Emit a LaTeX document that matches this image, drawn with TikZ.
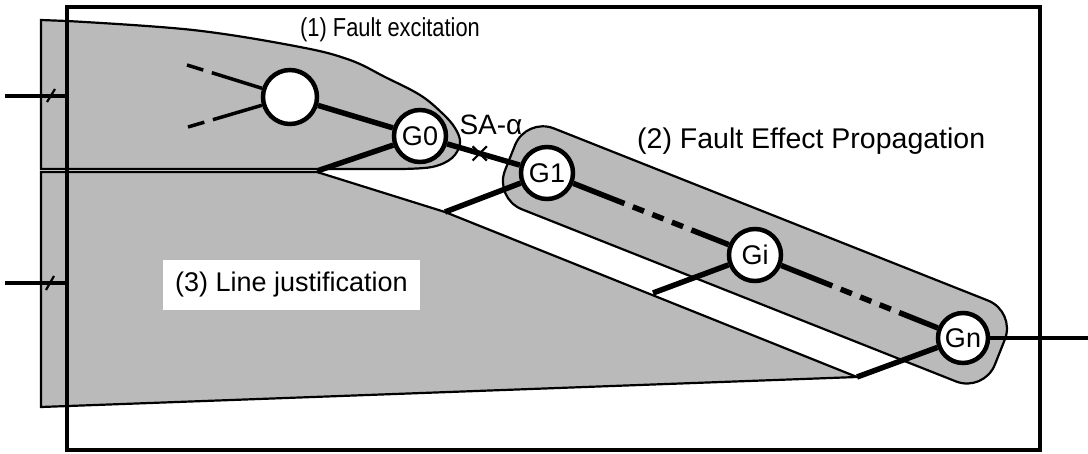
\documentclass[tikz,border=0pt]{standalone}
\usepackage{fontspec}
\setmainfont{Liberation Sans}
\newfontfamily\narrowsans[FakeStretch=0.84]{Liberation Sans}
\usetikzlibrary{calc,shapes.misc}
\begin{document}
\begin{tikzpicture}[x=1pt,y=-1pt,
  region/.style={fill=black!27, draw=black, line width=2.2pt},
  gate/.style={circle, draw=black, fill=white, line width=4.5pt, minimum size=52pt, inner sep=0pt, font=\fontsize{27}{27}\selectfont},
  wire/.style={line width=5.5pt},
  inwire/.style={line width=3.5pt},
  frame/.style={line width=4pt},
  lbl/.style={font=\fontsize{27}{27}\selectfont, inner sep=0pt},
  gapwire/.style={wire, dash pattern=on 55pt off 9pt on 12pt off 9pt on 12pt off 9pt on 12pt off 9pt on 200pt},
  faninwire/.style={inwire, dash pattern=on 17pt off 9pt on 200pt},
  busslash/.style={line width=2.2pt}
]
\useasboundingbox (0,0) rectangle (1088,453);

% (3) line justification region
\path[region] (41,172) -- (317,172) -- (445,212) -- (857,377) -- (41,407) -- cycle;
% (1) fault excitation region
\path[region] (41,20) -- plot[smooth, tension=0.6] coordinates {(67,21) (193,30) (300,47) (350,60) (385,77) (420,95) (442,113) (455,128) (460,143) (452,158) (432,167) (400,169)} -- (41,169) -- cycle;
% (2) fault effect propagation region
\begin{scope}[shift={(547,173)}, rotate=-21.63]
  \path[region, rounded corners=30pt] (-40,-44) rectangle (487,43);
\end{scope}

% frame
\draw[frame] (67,7) rectangle (1040,450);

% gates
\node[gate, minimum size=54pt] (C) at (290,97) {};
\node[gate] (G0) at (420,136) {G0};
\node[gate] (G1) at (547,173) {G1};
\node[gate] (Gi) at (755,255) {Gi};
\node[gate, minimum size=50pt] (Gn) at (963,338) {Gn};

% coordinates for free wire ends
\coordinate (t1) at (187,65);
\coordinate (t2) at (188,127);
\coordinate (j0) at (317,171);
\coordinate (j1) at (445,212);
\coordinate (j2) at (653,293);
\coordinate (j3) at (857,377);
\coordinate (out) at (1088,338);
\coordinate (in1) at (5,96);
\coordinate (f1) at (67,96);
\coordinate (in2) at (5,283);
\coordinate (f2) at (67,283);
\coordinate (b1) at (51,96);
\coordinate (b2) at (50,283);

% wires
\draw[faninwire] (t1) -- (C);
\draw[faninwire] (t2) -- (C);
\draw[wire] (C) -- (G0);
\draw[wire] (G0) -- (G1);
\draw[wire] (j0) -- (G0);
\draw[wire] (j1) -- (G1);
\draw[wire] (j2) -- (Gi);
\draw[wire] (j3) -- (Gn);
\draw[gapwire] (G1) -- (Gi);
\draw[gapwire] (Gi) -- (Gn);
\draw[inwire] (Gn) -- (out);
\draw[inwire] (in1) -- (f1);
\draw[inwire] (in2) -- (f2);
\draw[busslash] ($(b1)+(-4,6)$) -- ($(b1)+(4,-7)$);
\draw[busslash] ($(b2)+(-4,7)$) -- ($(b2)+(4,-7)$);

% stuck-at fault mark
\node[cross out, draw=black, line width=2.2pt, minimum size=12pt, inner sep=0pt] (sa) at ($(G0)!0.47!(G1)$) {};

% labels
\node[lbl, anchor=west, font=\narrowsans\fontsize{26}{26}\selectfont] (L1) at (300,30) {(1) Fault excitation};
\node[lbl, anchor=west, font=\fontsize{28.5}{28.5}\selectfont] (L2) at (637,141) {(2) Fault Effect Propagation};
\node[lbl, anchor=west, fill=white, inner xsep=12pt, inner ysep=12pt] (L3) at (163,285) {(3) Line justification};
\node[lbl, font=\fontsize{28}{28}\selectfont] (SA) at (491,125) {SA-α};
\end{tikzpicture}
\end{document}
